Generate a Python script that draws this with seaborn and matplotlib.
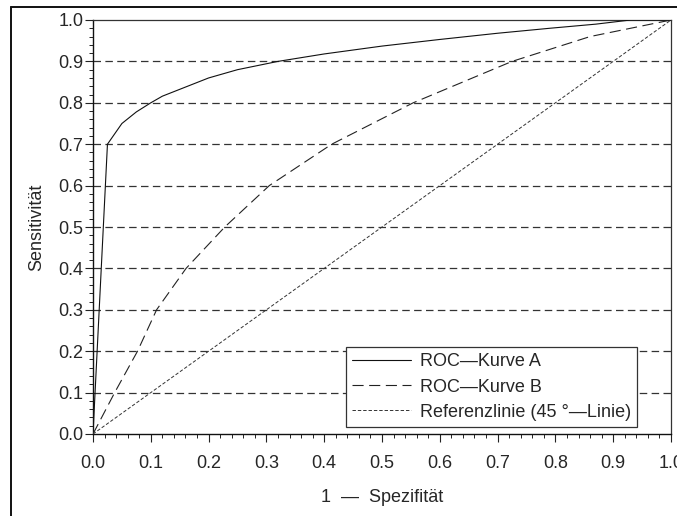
import matplotlib
matplotlib.use("Agg")
import matplotlib.pyplot as plt
from matplotlib.lines import Line2D
from matplotlib.ticker import MultipleLocator, FormatStrFormatter
import pandas as pd
import seaborn as sns

# ROC curve A (1 - specificity, sensitivity)
fpr_a = [0.0, 0.025, 0.05, 0.075, 0.10, 0.12, 0.20, 0.25, 0.32, 0.40, 0.50, 0.60, 0.70, 0.79, 0.87, 0.93, 1.0]
tpr_a = [0.0, 0.70, 0.75, 0.778, 0.80, 0.816, 0.86, 0.88, 0.90, 0.918, 0.937, 0.953, 0.968, 0.98, 0.99, 1.0, 1.0]

# ROC curve B
fpr_b = [0.0, 0.0375, 0.077, 0.11, 0.161, 0.228, 0.305, 0.413, 0.554, 0.725, 0.86, 1.0]
tpr_b = [0.0, 0.10, 0.20, 0.30, 0.40, 0.50, 0.60, 0.70, 0.80, 0.90, 0.96, 1.0]

# 45 degree reference line
ref_x = [0.0, 1.0]
ref_y = [0.0, 1.0]

grid_levels = [0.1, 0.2, 0.3, 0.4, 0.5, 0.6, 0.7, 0.8, 0.9]

labels = ["ROC\u2014Kurve A", "ROC\u2014Kurve B", "Referenzlinie (45 \u00b0\u2014Linie)"]
x_label = "1  \u2014  Spezifit\u00e4t"
y_label = "Sensitivit\u00e4t"

sns.set_style("white")
plt.rcParams["font.family"] = ["Liberation Sans", "DejaVu Sans"]

FS = 13

fig = plt.figure(figsize=(6.77, 5.16), dpi=100)
W, H = 677, 516
ax = fig.add_axes([93 / W, 1 - 434 / H, (671 - 93) / W, (434 - 20) / H])

# outer frame (left and top edges visible)
fig.add_artist(Line2D([11 / W, 11 / W], [0, 1 - 7 / H], transform=fig.transFigure, color="#111111", lw=1.4))
fig.add_artist(Line2D([11 / W, 1], [1 - 7 / H, 1 - 7 / H], transform=fig.transFigure, color="#111111", lw=1.4))

for lv in grid_levels:
    ax.axhline(lv, color="#333333", lw=0.9, dashes=(6, 3.5), zorder=1)

df_a = pd.DataFrame({"x": fpr_a, "y": tpr_a})
df_b = pd.DataFrame({"x": fpr_b, "y": tpr_b})
df_r = pd.DataFrame({"x": ref_x, "y": ref_y})

sns.lineplot(data=df_a, x="x", y="y", ax=ax, sort=False, estimator=None,
             color="#111111", lw=0.8, label=labels[0], zorder=3)
sns.lineplot(data=df_b, x="x", y="y", ax=ax, sort=False, estimator=None,
             color="#222222", lw=0.8, label=labels[1], zorder=3)
ax.lines[-1].set_dashes((10, 5))
sns.lineplot(data=df_r, x="x", y="y", ax=ax, sort=False, estimator=None,
             color="#333333", lw=0.7, label=labels[2], zorder=3)
ax.lines[-1].set_dashes((3.5, 2))

ax.set_xlim(0, 1)
ax.set_ylim(0, 1)
ax.xaxis.set_major_locator(MultipleLocator(0.1))
ax.yaxis.set_major_locator(MultipleLocator(0.1))
ax.xaxis.set_minor_locator(MultipleLocator(0.02))
ax.yaxis.set_minor_locator(MultipleLocator(0.02))
ax.xaxis.set_major_formatter(FormatStrFormatter("%.1f"))
ax.yaxis.set_major_formatter(FormatStrFormatter("%.1f"))

ax.tick_params(axis="both", which="major", direction="out", length=6, width=0.8,
               color="#222222", labelsize=FS, bottom=True, left=True, top=False, right=False)
ax.tick_params(axis="both", which="minor", direction="out", length=3, width=0.7,
               color="#222222", bottom=True, left=True, top=False, right=False)
ax.tick_params(axis="x", which="major", pad=9)
ax.tick_params(axis="y", which="major", pad=1)

for side in ["left", "bottom"]:
    ax.spines[side].set_color("#111111")
    ax.spines[side].set_linewidth(1.0)
for side in ["top", "right"]:
    ax.spines[side].set_color("#333333")
    ax.spines[side].set_linewidth(0.9)
    ax.spines[side].set_visible(True)

ax.set_xlabel(x_label, fontsize=FS, labelpad=12)
ax.set_ylabel(y_label, fontsize=FS, labelpad=9)

ax.get_legend().remove()
handles = [l for l in ax.get_lines() if l.get_label() in labels]
leg = ax.legend(handles=handles, labels=labels, loc="lower right",
                bbox_to_anchor=((637 - 93) / 578, (434 - 427) / 414),
                fontsize=FS, frameon=True, fancybox=False, framealpha=1,
                edgecolor="#333333", handlelength=3.3, handletextpad=0.45,
                labelspacing=0.45, borderpad=0.35, borderaxespad=0)
leg.get_frame().set_linewidth(0.9)

fig.savefig("out.png", dpi=100)
